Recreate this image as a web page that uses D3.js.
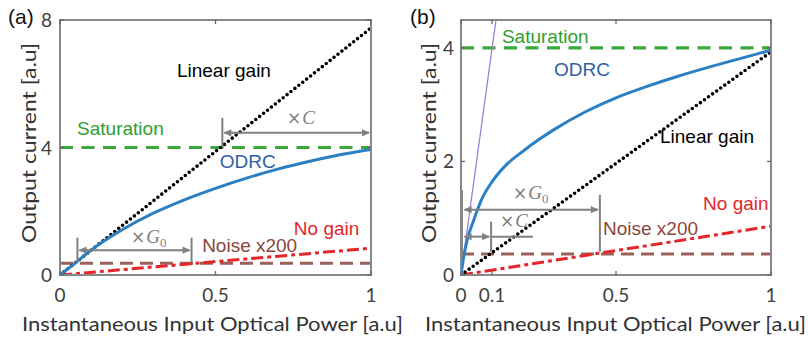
<!DOCTYPE html>
<html><head><meta charset="utf-8">
<script src="https://cdn.jsdelivr.net/npm/d3@7"></script>
<style>body{margin:0;background:#fff}svg{display:block}</style>
</head><body><svg id="c" width="808" height="343"></svg>
<script>
// ---------- data ----------
const xTicksA = [0, 0.5, 1];
const yTicksA = [0, 4, 8];
const xTicksB = [0, 0.1, 0.5, 1];
const yTicksB = [0, 2, 4];

const odrcAx = [0, 0.05, 0.1, 0.2, 0.3, 0.4, 0.5, 0.6, 0.7, 0.8, 0.9, 1];
const odrcAy = [0, 0.38, 0.78, 1.42, 1.94, 2.36, 2.72, 3.04, 3.32, 3.56, 3.77, 3.94];

const odrcBx = [0, 0.005, 0.01, 0.02, 0.04, 0.07, 0.1, 0.15, 0.2, 0.25, 0.3, 0.4, 0.5, 0.6, 0.7, 0.8, 0.9, 1];
const odrcBy = [0, 0.19, 0.36, 0.62, 0.95, 1.37, 1.64, 1.96, 2.18, 2.38, 2.56, 2.87, 3.12, 3.32, 3.5, 3.66, 3.81, 3.96];

const lineX = [0, 1];
const linearAy = [0, 7.75];
const linearBy = [0, 3.93];
const noGainAy = [0, 0.84];
const noGainBy = [0, 0.86];
const saturationLevel = 4;
const noiseLevelA = 0.37;
const noiseLevelB = 0.37;
const tangentBx = [0, 0.113];
const tangentBy = [0, 4.5];

// ---------- drawing ----------
const svg = d3.select("#c");
const C = {
  green: "#3aa83a", greenT: "#2f9f2f",
  blue: "#2b80c4", blueT: "#2f60a2",
  red: "#e4262b", brown: "#8f5046", brownT: "#8b463b",
  gray: "#808080", purple: "#a07fd8", tick: "#404040"
};
const tickFont = "Lato, 'Open Sans', sans-serif";
const labFont = "'Liberation Sans', Arial, sans-serif";

function panel(o) {
  const x = d3.scaleLinear().domain([0, 1]).range([o.left, o.right]);
  const y = d3.scaleLinear().domain(o.ydom).range([o.bottom, o.top]);
  const g = svg.append("g");
  const clipId = "clip" + o.name;
  svg.append("clipPath").attr("id", clipId).append("rect")
    .attr("x", o.left).attr("y", o.top).attr("width", o.right - o.left).attr("height", o.bottom - o.top);
  const pg = g.append("g").attr("clip-path", `url(#${clipId})`);
  const line = d3.line().x(d => x(d[0])).y(d => y(d[1]));
  const zip = (a, b) => a.map((v, i) => [v, b[i]]);

  // noise
  pg.append("path").attr("d", line([[0, o.noise], [1, o.noise]]))
    .attr("fill", "none").attr("stroke", C.brown).attr("stroke-width", 3).attr("stroke-dasharray", "13 7").attr("opacity", 0.9);
  // saturation
  pg.append("path").attr("d", line([[0, saturationLevel], [1, saturationLevel]]))
    .attr("fill", "none").attr("stroke", C.green).attr("stroke-width", 3.2).attr("stroke-dasharray", "13 8.5");
  // no gain
  pg.append("path").attr("d", line(zip(lineX, o.noGain)))
    .attr("fill", "none").attr("stroke", C.red).attr("stroke-width", 3).attr("stroke-dasharray", "12 4 4 4");
  // tangent
  if (o.tangent) pg.append("path").attr("d", line(o.tangent))
    .attr("fill", "none").attr("stroke", C.purple).attr("stroke-width", 1.3);
  // linear gain
  pg.append("path").attr("d", line(zip(lineX, o.linear)))
    .attr("fill", "none").attr("stroke", "#000").attr("stroke-width", 3.6)
    .attr("stroke-linecap", "round").attr("stroke-dasharray", "0 5");
  // ODRC
  pg.append("path").attr("d", d3.line().x(d => x(d[0])).y(d => y(d[1])).curve(d3.curveMonotoneX)(o.odrc))
    .attr("fill", "none").attr("stroke", C.blue).attr("stroke-width", 3);

  // arrows
  const ag = g.append("g").attr("stroke", C.gray).attr("fill", C.gray);
  function bar(xv, y0, y1) {
    ag.append("line").attr("x1", x(xv)).attr("x2", x(xv)).attr("y1", y(y0)).attr("y2", y(y1)).attr("stroke-width", 2);
  }
  function head(px, py, dir) {
    const L = 8, W = 3.6;
    ag.append("path").attr("stroke", "none")
      .attr("d", `M${px},${py}L${px - dir * L},${py - W}L${px - dir * L},${py + W}Z`);
  }
  function darrow(x0, x1, yv) {
    const px0 = x(x0), px1 = x(x1), py = y(yv);
    ag.append("line").attr("x1", px0 + 2).attr("x2", px1 - 2).attr("y1", py).attr("y2", py).attr("stroke-width", 2);
    head(px0 + 1, py, -1); head(px1 - 1, py, 1);
  }
  o.arrows.forEach(a => {
    darrow(a.x0, a.x1, a.y);
    a.bars.forEach(b => bar(b[0], b[1], b[2]));
    if (a.ext) ag.append("line").attr("x1", x(a.x1)).attr("x2", x(a.ext)).attr("y1", y(a.y)).attr("y2", y(a.y)).attr("stroke-width", 2);
  });

  // box
  g.append("rect").attr("x", o.left).attr("y", o.top).attr("width", o.right - o.left).attr("height", o.bottom - o.top)
    .attr("fill", "none").attr("stroke", "#888").attr("stroke-width", 2);
  // ticks (inward, all sides)
  const tl = 4;
  o.xticks.forEach(t => {
    g.append("line").attr("x1", x(t)).attr("x2", x(t)).attr("y1", o.bottom).attr("y2", o.bottom - tl).attr("stroke", "#666").attr("stroke-width", 1.3);
    g.append("line").attr("x1", x(t)).attr("x2", x(t)).attr("y1", o.top).attr("y2", o.top + tl).attr("stroke", "#666").attr("stroke-width", 1.3);
    g.append("text").attr("x", x(t)).attr("y", o.bottom + 27).attr("text-anchor", "middle")
      .attr("font-family", tickFont).attr("font-size", 19).attr("fill", C.tick).text(t);
  });
  o.yticks.forEach(t => {
    g.append("line").attr("y1", y(t)).attr("y2", y(t)).attr("x1", o.left).attr("x2", o.left + tl).attr("stroke", "#666").attr("stroke-width", 1.3);
    g.append("line").attr("y1", y(t)).attr("y2", y(t)).attr("x1", o.right).attr("x2", o.right - tl).attr("stroke", "#666").attr("stroke-width", 1.3);
    g.append("text").attr("x", o.left - o.ylabGap).attr("y", y(t) + 7).attr("text-anchor", "end")
      .attr("font-family", tickFont).attr("font-size", 19).attr("fill", C.tick).text(t);
  });

  // axis labels
  g.append("text").attr("x", o.xlabX).attr("y", 331).attr("font-family", tickFont).attr("font-size", 19)
    .attr("fill", "#333").attr("textLength", 381).attr("lengthAdjust", "spacingAndGlyphs")
    .text("Instantaneous Input Optical Power [a.u]");
  g.append("text").attr("transform", `translate(${o.ylabX},243) rotate(-90)`).attr("font-family", tickFont).attr("font-size", 19)
    .attr("fill", "#333").attr("textLength", 200).attr("lengthAdjust", "spacingAndGlyphs")
    .text("Output current [a.u]");
  // panel letter
  g.append("text").attr("x", o.letterX).attr("y", 24).attr("font-family", labFont).attr("font-size", 21).attr("fill", "#111").text(o.letter);

  // curve labels
  o.labels.forEach(l => {
    g.append("text").attr("x", x(l.x)).attr("y", y(l.y)).attr("font-family", labFont).attr("font-size", 19)
      .attr("fill", l.c).text(l.t);
  });
  // math labels
  o.math.forEach(m => {
    const t = g.append("text").attr("x", x(m.x)).attr("y", y(m.y)).attr("fill", C.gray).attr("font-size", 19);
    t.append("tspan").attr("font-family", "'DejaVu Sans', sans-serif").attr("font-size", 17).text("×");
    t.append("tspan").attr("font-family", "'Liberation Serif', serif").attr("font-style", "italic").attr("dx", 1).text(m.sym);
    if (m.sub) t.append("tspan").attr("font-family", "'Liberation Serif', serif").attr("font-size", 13).attr("dy", 4).text(m.sub);
  });
}

const zip = (a, b) => a.map((v, i) => [v, b[i]]);

panel({
  name: "a", left: 60, right: 371, top: 20, bottom: 275, ydom: [0, 8],
  xticks: xTicksA, yticks: yTicksA, ylabGap: 8, xlabX: 22, ylabX: 36, letter: "(a)", letterX: 8,
  noise: noiseLevelA, noGain: noGainAy, linear: linearAy, odrc: zip(odrcAx, odrcAy),
  arrows: [
    { x0: 0.056, x1: 0.423, y: 0.78, bars: [[0.056, 0.4, 1.17], [0.423, 0.4, 1.17]] },
    { x0: 0.522, x1: 1, y: 4.46, bars: [[0.522, 4.02, 4.93]] }
  ],
  labels: [
    { t: "Linear gain", x: 0.376, y: 6.21, c: "#000" },
    { t: "Saturation", x: 0.055, y: 4.39, c: C.greenT },
    { t: "ODRC", x: 0.514, y: 3.36, c: C.blueT },
    { t: "No gain", x: 0.752, y: 1.25, c: C.red },
    { t: "Noise x200", x: 0.457, y: 0.72, c: C.brownT }
  ],
  math: [
    { x: 0.228, y: 1.0, sym: "G", sub: "0" },
    { x: 0.73, y: 4.74, sym: "C" }
  ]
});

panel({
  name: "b", left: 461, right: 771, top: 20, bottom: 275, ydom: [0, 4.49],
  xticks: xTicksB, yticks: yTicksB, ylabGap: 7, xlabX: 425, ylabX: 436, letter: "(b)", letterX: 410,
  noise: noiseLevelB, noGain: noGainBy, linear: linearBy, odrc: zip(odrcBx, odrcBy),
  tangent: zip(tangentBx, tangentBy),
  arrows: [
    { x0: 0.005, x1: 0.448, y: 1.15, bars: [[0.003, 0.3, 1.5], [0.448, 0.41, 1.41]] },
    { x0: 0.005, x1: 0.097, y: 0.675, bars: [[0.097, 0.41, 0.94]], ext: 0.232 }
  ],
  labels: [
    { t: "Saturation", x: 0.132, y: 4.09, c: C.greenT },
    { t: "ODRC", x: 0.3, y: 3.51, c: C.blueT },
    { t: "Linear gain", x: 0.642, y: 2.33, c: "#000" },
    { t: "No gain", x: 0.781, y: 1.15, c: C.red },
    { t: "Noise x200", x: 0.458, y: 0.70, c: C.brownT }
  ],
  math: [
    { x: 0.168, y: 1.34, sym: "G", sub: "0" },
    { x: 0.126, y: 0.85, sym: "C" }
  ]
});
</script></body></html>
